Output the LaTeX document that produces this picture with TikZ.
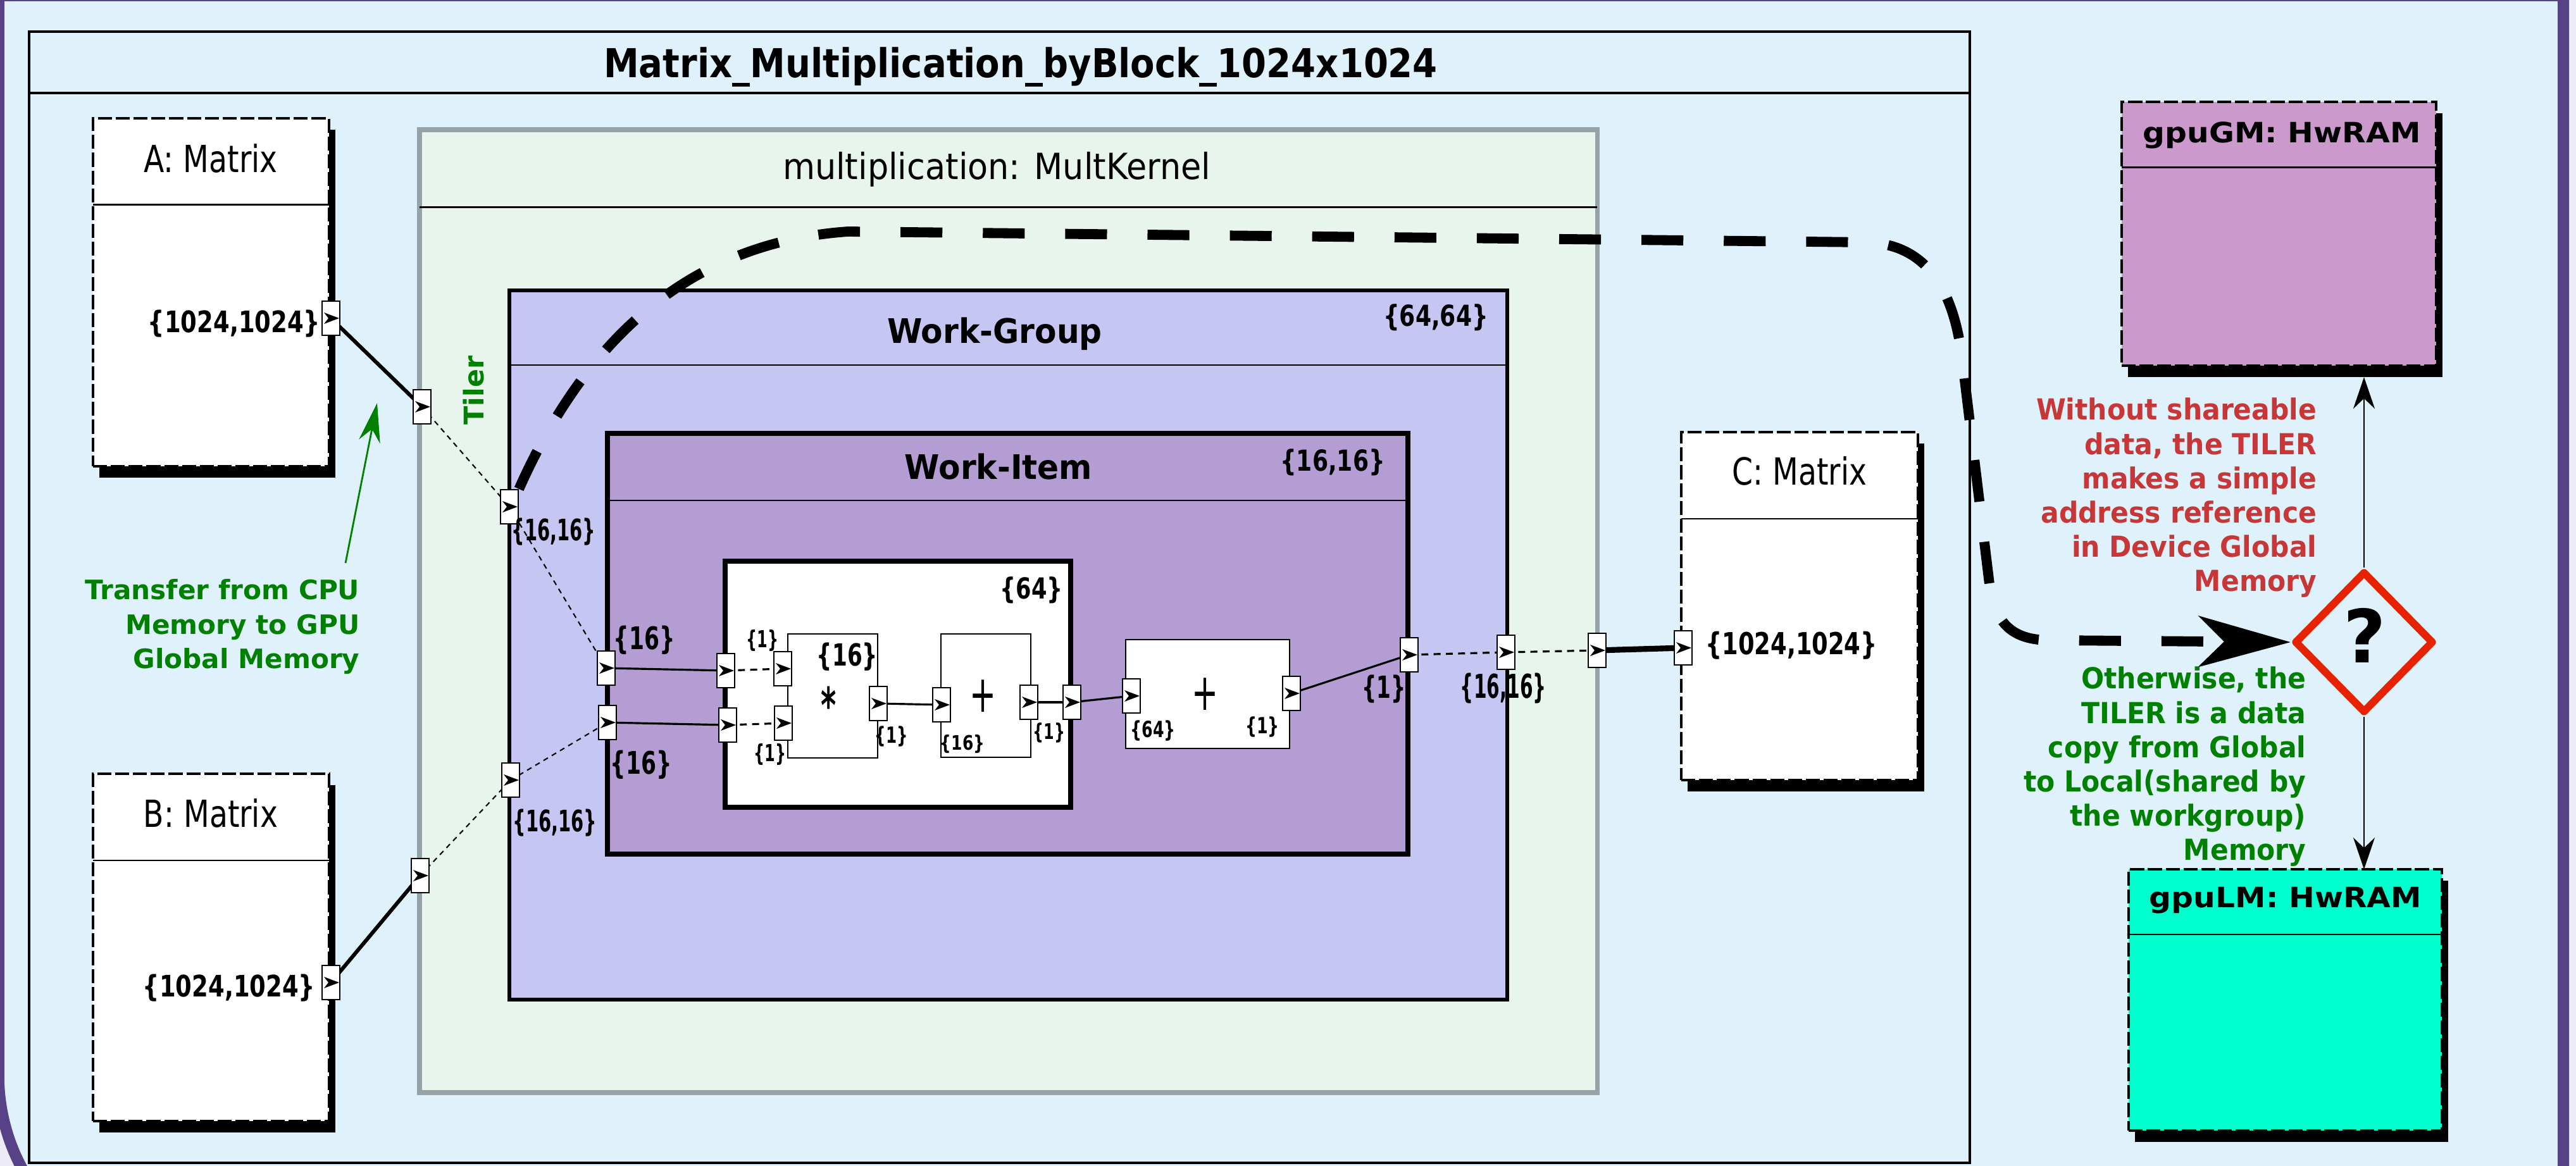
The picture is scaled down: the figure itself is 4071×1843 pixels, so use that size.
\documentclass[tikz,border=0pt]{standalone}
\usepackage{fontspec}
\setmainfont{DejaVu Sans}
\usepackage{graphicx}
\usetikzlibrary{arrows.meta,shapes.geometric,calc}
\definecolor{bgblue}{HTML}{DFF2FB}
\definecolor{lav}{HTML}{EEEBF8}
\definecolor{framec}{HTML}{574187}
\definecolor{mkgreen}{HTML}{E8F5EC}
\definecolor{mkgrey}{HTML}{95A3A8}
\definecolor{wgfill}{HTML}{C6C6F3}
\definecolor{wifill}{HTML}{B39DD2}
\definecolor{gmfill}{HTML}{CC99CC}
\definecolor{lmfill}{HTML}{00FFCC}
\definecolor{redtxt}{HTML}{C83737}
\definecolor{greentxt}{HTML}{008000}
\definecolor{redline}{HTML}{E62200}
\newcommand{\hs}[2]{\scalebox{#1}[1]{#2}}
\pgfdeclarelayer{back}\pgfdeclarelayer{conn}\pgfsetlayers{back,conn,main}
\begin{document}
\begin{tikzpicture}[x=0.01cm,y=-0.01cm,
 sz/.style 2 args={minimum width=#1*0.01cm, minimum height=#2*0.01cm},
 box/.style={draw, anchor=north west, inner sep=0pt, outer sep=0pt},
 mat/.style={box, fill=white, line width=1.1pt, dash pattern=on 6.3pt off 1.7pt},
 shad/.style={anchor=north west, fill=black, inner sep=0pt, outer sep=0pt},
 hdr/.style={line width=0.85pt},
 port/.style={draw, fill=white, line width=0.65pt, inner sep=0pt, minimum width=0.28cm, minimum height=0.54cm,
   path picture={\fill[black] ([shift={(-11,9)}]path picture bounding box.center) -- ++(24,-9) -- ++(-24,-9) -- ++(7,9) -- cycle;}},
 L/.style={font=\bfseries\fontsize{#1}{#1}\selectfont, text depth=0pt, inner sep=0pt},
 R/.style={font=\fontsize{#1}{#1}\selectfont, text depth=0pt, inner sep=0pt},
 thickc/.style={line width=1.7pt},
 thind/.style={line width=0.6pt, dash pattern=on 2.3pt off 2pt},
 mids/.style={line width=0.9pt},
 midd/.style={line width=0.9pt, dash pattern=on 3.1pt off 2.4pt},
 annot/.style={inner sep=0pt, anchor=base east, align=right}
]
\useasboundingbox (0,0) rectangle (4071,1843);
\begin{pgfonlayer}{back}
\fill[lav] (0,0) rectangle (4071,1843);
\draw[framec, fill=bgblue, line width=5.1pt] (-2,-7) -- (4051,-7) -- (4051,2010) -- (308,2010)
  arc[start angle=270, end angle=180, radius=3.1cm] -- cycle;
% outer box
\node[box, sz={3067}{1788}, line width=1.1pt] (outer) at (46,50) {};
\draw[line width=1pt] (46,147) -- (3113,147);
% MultKernel
\node[box, sz={1861}{1522}, fill=mkgreen, draw=mkgrey, line width=2pt] (mk) at (663,205) {};
\draw[hdr] (663,328) -- (2524,328);
% Work-Group
\node[box, sz={1577}{1121}, fill=wgfill, line width=1.8pt] (wg) at (805,459) {};
\draw[hdr] (805,577) -- (2382,577);
% Work-Item
\node[box, sz={1265}{665}, fill=wifill, line width=2.5pt] (wi) at (960,685) {};
\draw[hdr] (960,791) -- (2225,791);
% white {64}
\node[box, sz={546}{389}, fill=white, line width=2.5pt] (wh) at (1146,887) {};
\node[box, sz={142}{196}, fill=white, line width=0.65pt] (mu) at (1245,1002) {};
\node[box, sz={142}{195}, fill=white, line width=0.65pt] (ad1) at (1487,1002) {};
\node[box, sz={259}{172}, fill=white, line width=0.65pt] (ad2) at (1779,1011) {};
% matrices
\node[shad, sz={373}{550}] (AS) at (157,205) {};
\node[mat, sz={373}{550}] (A) at (147,187) {};
\draw[hdr] (147,324) -- (520,324);
\node[shad, sz={373}{549}] (BS) at (157,1241) {};
\node[mat, sz={373}{549}] (B) at (147,1223) {};
\draw[hdr] (147,1360) -- (520,1360);
\node[shad, sz={374}{550}] (CS) at (2667,701) {};
\node[mat, sz={374}{550}] (C) at (2657,683) {};
\draw[hdr] (2657,820) -- (3031,820);
\node[shad, sz={497}{417}] (gmS) at (3363,179) {};
\node[mat, sz={497}{417}, fill=gmfill] (gm) at (3353,161) {};
\draw[hdr] (3353,265) -- (3850,265);
\node[shad, sz={495}{413}] (lmS) at (3374,1392) {};
\node[mat, sz={495}{413}, fill=lmfill] (lm) at (3364,1374) {};
\draw[hdr] (3364,1477) -- (3859,1477);
\end{pgfonlayer}

% ports
\node[port] (pAo) at (523,503) {};
\node[port] (pBo) at (523,1553) {};
\node[port] (mkA) at (667,643) {};
\node[port] (mkB) at (664,1384) {};
\node[port] (wgA) at (805,801) {};
\node[port] (wgB) at (807,1233) {};
\node[port] (wiA) at (958,1056) {};
\node[port] (wiB) at (960,1142) {};
\node[port] (whA) at (1147,1060) {};
\node[port] (whB) at (1150,1146) {};
\node[port] (muA) at (1237,1057) {};
\node[port] (muB) at (1238,1143) {};
\node[port] (muO) at (1388,1112) {};
\node[port] (ad1I) at (1488,1114) {};
\node[port] (ad1O) at (1626,1110) {};
\node[port] (whO) at (1694,1110) {};
\node[port] (ad2I) at (1788,1100) {};
\node[port] (ad2O) at (2041,1096) {};
\node[port] (wiO) at (2227,1035) {};
\node[port] (wgO) at (2380,1031) {};
\node[port] (mkO) at (2524,1028) {};
\node[port] (cI) at (2660,1024) {};

% diamond
\node[diamond, draw=redline, line width=3.4pt, minimum width=2.2cm, minimum height=2.24cm, inner sep=0pt, line join=round] (dia) at (3736,1015) {};
\node[L=33] (q) at (3737,1004) {?};

% titles
\node[L=17.9] (title) at (1613,99) {\hs{0.89}{Matrix\_Multiplication\_byBlock\_1024x1024}};
\node[R=16.8] (Alab) at (333,250) {\hs{0.8}{A: Matrix}};
\node[R=16.8] (Blab) at (333,1285) {\hs{0.8}{B: Matrix}};
\node[R=16.8] (Clab) at (2844,744) {\hs{0.8}{C: Matrix}};
\node[R=16.2] (mklab) at (1575,262) {\hs{0.92}{multiplication: MultKernel}};
\node[L=15.2] (wglab) at (1572,522) {\hs{0.94}{Work-Group}};
\node[L=15.2] (wilab) at (1578,737) {\hs{0.94}{Work-Item}};
\node[L=12.6] (gmlab) at (3606,209) {\hs{1.1}{gpuGM: HwRAM}};
\node[L=12.6] (lmlab) at (3612,1418) {\hs{1.1}{gpuLM: HwRAM}};
\node[L=12.2, rotate=90, text=greentxt] (tiler) at (748,617) {Tiler};

% labels
\node[L=13.3] (lA) at (370,508) {\hs{0.79}{\{1024,1024\}}};
\node[L=13.3] (lB) at (362,1558) {\hs{0.79}{\{1024,1024\}}};
\node[L=13.6] (lC) at (2831,1016) {\hs{0.77}{\{1024,1024\}}};
\node[L=13.3] (lwgA) at (875,837) {\hs{0.62}{\{16,16\}}};
\node[L=13.3] (lwgB) at (877,1297) {\hs{0.62}{\{16,16\}}};
\node[L=14] (lwiA) at (1018,1008) {\hs{0.7}{\{16\}}};
\node[L=14] (lwiB) at (1013,1205) {\hs{0.7}{\{16\}}};
\node[L=10.5] (l1a) at (1205,1009) {\hs{0.65}{\{1\}}};
\node[L=10.5] (l1b) at (1217,1189) {\hs{0.65}{\{1\}}};
\node[L=13.7] (l16m) at (1339,1034) {\hs{0.71}{\{16\}}};
\node[L=22] (star) at (1310,1114) {\hs{0.6}{*}};
\node[L=10] (l1m) at (1409,1161) {\hs{0.7}{\{1\}}};
\node[L=9] (l16p) at (1521,1173) {\hs{0.79}{\{16\}}};
\node[R=23] (plus1) at (1553,1100) {\hs{0.62}{+}};
\node[L=9.7] (l1p) at (1658,1156) {\hs{0.7}{\{1\}}};
\node[L=10] (l64p) at (1822,1152) {\hs{0.72}{\{64\}}};
\node[L=10] (l1q) at (1995,1146) {\hs{0.72}{\{1\}}};
\node[R=23] (plus2) at (1904,1097) {\hs{0.62}{+}};
\node[L=13.7] (l1wi) at (2187,1085) {\hs{0.68}{\{1\}}};
\node[L=14.8] (l1616o) at (2376,1084) {\hs{0.57}{\{16,16\}}};
\node[L=13] (l64) at (1630,929) {\hs{0.77}{\{64\}}};
\node[L=13] (l1616wi) at (2106,727) {\hs{0.79}{\{16,16\}}};
\node[L=13] (l6464) at (2269,498) {\hs{0.79}{\{64,64\}}};

% annotations
\node[annot, text=redtxt, font=\bfseries\fontsize{13}{15.4}\selectfont] (red) at (3662,664)
 {\hs{0.93}{\begin{tabular}[t]{@{}r@{}}Without shareable\\data, the TILER\\makes a simple\\address reference\\in Device Global\\Memory\end{tabular}}};
\node[annot, text=greentxt, font=\bfseries\fontsize{13}{15.4}\selectfont] (grn) at (3645,1089)
 {\hs{0.93}{\begin{tabular}[t]{@{}r@{}}Otherwise, the\\TILER is a data\\copy from Global\\to Local(shared by\\the workgroup)\\Memory\end{tabular}}};
\node[annot, text=greentxt, font=\bfseries\fontsize{12}{15.4}\selectfont] (tr) at (569,948)
 {\begin{tabular}[t]{@{}r@{}}Transfer from CPU\\Memory to GPU\\Global Memory\end{tabular}};

\coordinate (gS) at (546,890);
\coordinate (gT) at (596,637);

\begin{pgfonlayer}{conn}
\draw[thickc] (pAo.center) -- (mkA.center);
\draw[thickc] (pBo.center) -- (mkB.center);
\draw[thind] (mkA.center) -- (wgA.center);
\draw[thind] (wgA.center) -- (wiA.center);
\draw[thind] (mkB.center) -- (wgB.center);
\draw[thind] (wgB.center) -- (wiB.center);
\draw[mids] (wiA.center) -- (whA.center);
\draw[mids] (wiB.center) -- (whB.center);
\draw[midd] (whA.center) -- (muA.center);
\draw[midd] (whB.center) -- (muB.center);
\draw[mids] (muO.center) -- (ad1I.center);
\draw[mids] (ad1O.center) -- (whO.center);
\draw[mids] (whO.center) -- (ad2I.center);
\draw[mids] (ad2O.center) -- (wiO.center);
\draw[midd] (wiO.center) -- (wgO.center);
\draw[midd] (wgO.center) -- (mkO.center);
\draw[line width=2.6pt] (mkO.center) -- (cI.center);
\draw[line width=4.5pt, dash pattern=on 18.8pt off 18.2pt, -{Stealth[length=1.45cm,width=0.8cm,inset=0.4cm]}]
  (wgA.north east) .. controls (915,560) and (1070,385) .. (1340,366) -- (2950,383)
  .. controls (3040,386) and (3085,450) .. (3100,560) -- (3143,915)
  .. controls (3150,975) and (3170,1012) .. (3240,1012) -- (dia.west);
\draw[line width=0.8pt, -{Stealth[length=0.5cm,width=0.34cm]}] (dia.north) -- (dia.north |- gmS.south);
\draw[line width=0.8pt, -{Stealth[length=0.5cm,width=0.34cm]}] (dia.south) -- (dia.south |- lm.north);
\draw[greentxt, line width=0.8pt, -{Stealth[length=0.62cm,width=0.34cm]}] (gS) -- (gT);
\end{pgfonlayer}
\end{tikzpicture}
\end{document}
